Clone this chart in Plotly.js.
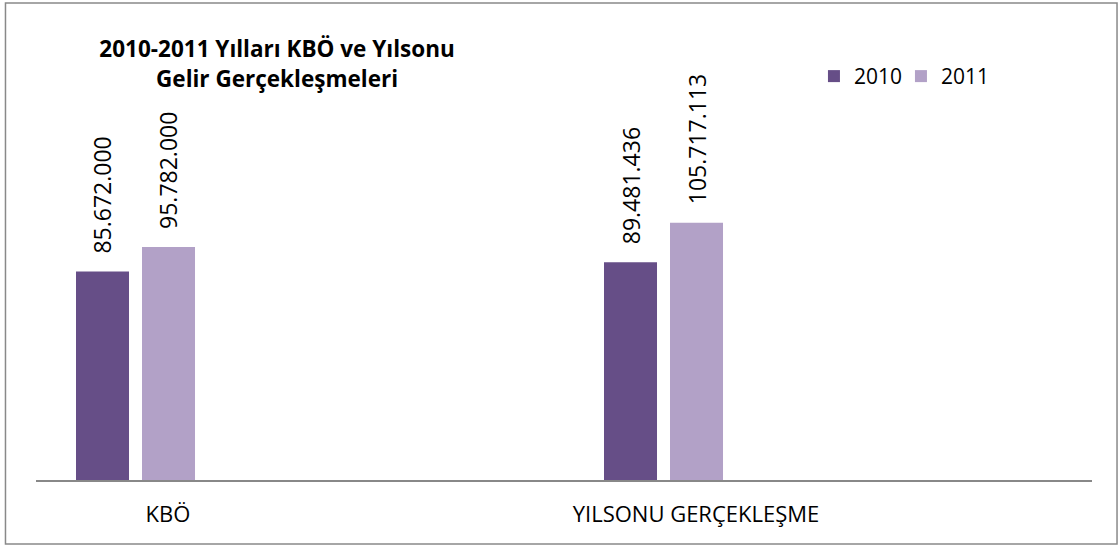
<!DOCTYPE html>
<html>
<head>
<meta charset="utf-8">
<script src="https://cdn.plot.ly/plotly-3.0.1.min.js"></script>
<style>html,body{margin:0;padding:0;background:#fff;}#chart{width:1118px;height:547px;}</style>
</head>
<body>
<div id="chart"></div>
<script>
// ---- data ----
const categories = ["KBÖ", "YILSONU GERÇEKLEŞME"];
const axisSlots = ["KBÖ", " ", "YILSONU GERÇEKLEŞME", "  "];
const seriesNames = ["2010", "2011"];
const values2010 = [85672000, 89481436];
const values2011 = [95782000, 105717113];
const chartTitle = "2010-2011 Yılları KBÖ ve Yılsonu<br>Gelir Gerçekleşmeleri";

// ---- styles ----
const colors = ["#664E87", "#B2A1C7"];
const barWidth = 0.2008;
const offsets = [-0.3485, -0.0985];
const labelFont = {family: "Open Sans", size: 23, color: "#000"};

function fmt(v) {
  return String(v).replace(/\B(?=(\d{3})+(?!\d))/g, ".");
}

const seriesValues = [values2010, values2011];
const traces = seriesValues.map((vals, i) => ({
  type: "bar",
  name: seriesNames[i],
  x: categories,
  y: vals,
  width: barWidth,
  offset: offsets[i],
  marker: {color: colors[i]},
  hoverinfo: "skip"
}));

const annotations = [];
seriesValues.forEach((vals, i) => {
  vals.forEach((v, j) => {
    annotations.push({
      x: axisSlots.indexOf(categories[j]) + offsets[i] + barWidth / 2,
      y: v,
      xref: "x", yref: "y",
      text: fmt(v),
      showarrow: false,
      textangle: -90,
      xanchor: "center",
      yanchor: "bottom",
      yshift: 16,
      font: labelFont
    });
  });
});

const layout = {
  width: 1118,
  height: 547,
  margin: {l: 36, r: 26, t: 188, b: 67},
  paper_bgcolor: "#fff",
  plot_bgcolor: "#fff",
  barmode: "overlay",
  showlegend: true,
  title: {
    text: chartTitle,
    font: {family: "Open Sans", size: 22.5, weight: 700, color: "#000"},
    xref: "container", yref: "container",
    x: 0.2478, xanchor: "center",
    y: 0.8949, yanchor: "middle"
  },
  legend: {
    orientation: "h",
    x: 0.7367, xanchor: "left",
    y: 1.382, yanchor: "middle",
    entrywidth: 42,
    entrywidthmode: "pixels",
    font: {family: "Open Sans", size: 21, color: "#000"},
    bgcolor: "rgba(0,0,0,0)"
  },
  xaxis: {
    type: "category",
    categoryorder: "array",
    categoryarray: axisSlots,
    range: [-0.5, 3.5],
    showline: true,
    linecolor: "#888888",
    linewidth: 1.5,
    ticks: "",
    ticklabelstandoff: 14,
    showgrid: false,
    zeroline: false,
    tickfont: {family: "Open Sans", size: 22, color: "#000"},
    fixedrange: true
  },
  yaxis: {
    range: [0, 120000000],
    visible: false,
    showgrid: false,
    zeroline: false,
    fixedrange: true
  },
  annotations: annotations,
  shapes: [{
    type: "rect",
    xref: "paper", yref: "paper",
    x0: -0.0289, x1: 1.0237,
    y0: -0.219, y1: 1.6336,
    line: {color: "#898989", width: 1.5},
    fillcolor: "rgba(0,0,0,0)",
    layer: "below"
  }]
};

Plotly.newPlot("chart", traces, layout, {displayModeBar: false, staticPlot: true});
</script>
</body>
</html>
